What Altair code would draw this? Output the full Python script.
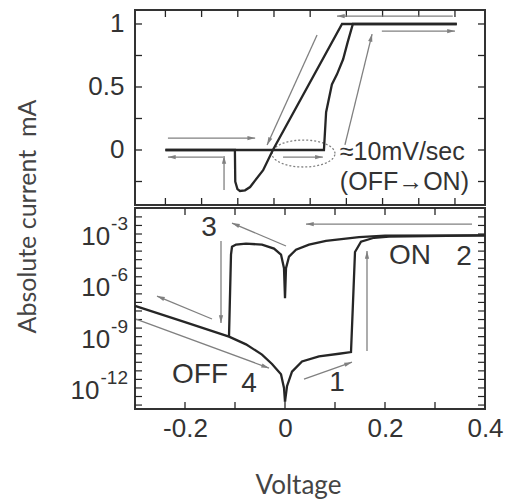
import math
import altair as alt
import numpy as np
import pandas as pd

# ---------------- data: top panel (linear current, mA) ----------------
top_a_v = [-0.30, -0.108, -0.107, -0.101, -0.094, -0.080, -0.066, -0.030, -0.003, 0.188, 0.505]
top_a_i = [0.0, 0.0, -0.25, -0.31, -0.325, -0.32, -0.294, -0.16, 0.0, 1.0, 1.0]
top_b_v = [-0.30, 0.138, 0.144, 0.160, 0.174, 0.191, 0.204, 0.218, 0.505]
top_b_i = [0.0, 0.0, 0.30, 0.52, 0.60, 0.72, 0.86, 1.0, 1.0]

# arrows: start V, start I, end V, end I
top_arrows = [
    (-0.293, 0.095, -0.052, 0.095),
    (-0.141, -0.056, -0.293, -0.056),
    (-0.138, -0.317, -0.138, -0.048),
    (0.119, 0.913, -0.019, 0.04),
    (0.196, 0.04, 0.271, 0.92),
    (0.494, 1.063, 0.174, 1.063),
    (0.298, 0.944, 0.500, 0.944),
    (0.025, -0.056, 0.135, -0.056),
]
ellipse_center = (0.0815, -0.028)
ellipse_radii = (0.087, 0.107)
top_texts = ["\u224810mV/sec", "(OFF\u2192ON)"]
top_text_v = [0.182, 0.182]
top_text_i = [-0.016, -0.254]
top_ylabels = [0, 0.5, 1]
top_yticks = [-0.25, 0, 0.25, 0.5, 0.75, 1.0]
top_xticks = [-0.3, -0.2, -0.1, 0.0, 0.1, 0.2, 0.3, 0.4, 0.5]

# ---------------- data: bottom panel (log10 of |I| in mA) ----------------
off_v = [-0.30, -0.20, -0.112, -0.078, -0.046, -0.026, -0.008, -0.002, 0.0]
off_L = [-7.2, -8.15, -9.0, -9.45, -10.05, -10.6, -11.2, -12.0, -12.8]
set_v = [0.0, 0.004, 0.014, 0.034, 0.068, 0.108, 0.132, 0.136, 0.140, 0.152, 0.178, 0.208, 0.40]
set_L = [-12.8, -11.9, -11.05, -10.45, -10.15, -10.0, -9.9, -7.0, -4.05, -3.45, -3.22, -3.15, -3.08]
on_v = [0.40, 0.20, 0.148, 0.082, 0.048, 0.022, 0.008, 0.002, 0.0, -0.002, -0.008,
        -0.022, -0.046, -0.078, -0.098, -0.106, -0.108, -0.112]
on_L = [-3.08, -3.1, -3.18, -3.4, -3.62, -3.92, -4.32, -5.0, -6.75, -5.0, -4.2,
        -3.85, -3.62, -3.56, -3.62, -3.75, -4.2, -9.0]

bot_arrows = [
    (-0.298, -7.97, -0.032, -10.84),
    (-0.146, -7.97, -0.256, -6.63),
    (-0.128, -3.41, -0.128, -8.2),
    (0.002, -3.70, -0.106, -2.36),
    (0.038, -11.48, 0.134, -10.49),
    (0.164, -9.84, 0.164, -3.99),
    (0.374, -2.42, 0.042, -2.42),
]
bot_texts = ["3", "OFF", "4", "1", "ON", "2"]
bot_text_v = [-0.152, -0.17, -0.072, 0.104, 0.25, 0.358]
bot_text_L = [-2.65, -11.25, -11.77, -11.7, -4.29, -4.35]
bot_ylabel_exp = [-3, -6, -9, -12]
bot_xlabels = [-0.2, 0.0, 0.2, 0.4]
bot_xticks = [-0.2, -0.1, 0.0, 0.1, 0.2, 0.3]
bot_yticks = [x / 2 for x in range(-26, -3)]

# ---------------- layout / style ----------------
W = 350
TOP_H = 195
BOT_H = 201
TOP_XDOM = [-0.384, 0.583]
TOP_YDOM = [-0.4365, 1.111]
BOT_XDOM = [-0.3, 0.4]
BOT_LDOM = [-13.23, -1.48]
FONT = "Liberation Sans"
TFONT = "Lato"
INK = "#262626"
GRAY = "#808080"
ARROW_PATH = "M 0 0 L -2 -0.55 L -2 0.55 Z"
HEAD = 60
TICK = 7


def angle(dx_px, dy_px):
    return math.degrees(math.atan2(dy_px, dx_px)) % 360


# ================= top panel =================
tsx = W / (TOP_XDOM[1] - TOP_XDOM[0])
tsy = TOP_H / (TOP_YDOM[1] - TOP_YDOM[0])

xt = alt.X("v:Q", scale=alt.Scale(domain=TOP_XDOM, nice=False, zero=False), axis=None)
yt = alt.Y("i:Q", scale=alt.Scale(domain=TOP_YDOM, nice=False, zero=False),
           axis=alt.Axis(values=top_ylabels, ticks=False, domain=False, grid=False,
                         labelFont=FONT, labelFontSize=26, labelColor="#333",
                         labelPadding=11, title=None, labelExpr="toString(datum.value)"))

rows = []
for s, (vs, is_) in enumerate([(top_a_v, top_a_i), (top_b_v, top_b_i)]):
    for k, (v, i) in enumerate(zip(vs, is_)):
        rows.append({"s": s, "o": k, "v": v, "i": i})
top_curves = pd.DataFrame(rows)

ta = pd.DataFrame(top_arrows, columns=["v", "i", "v2", "i2"])
ta_head = pd.DataFrame({
    "v": ta["v2"], "i": ta["i2"],
    "ang": [angle((r.v2 - r.v) * tsx, -(r.i2 - r.i) * tsy) for r in ta.itertuples()],
})

t = np.linspace(0, 2 * np.pi, 73)
ell = pd.DataFrame({"o": np.arange(len(t)),
                    "v": ellipse_center[0] + ellipse_radii[0] * np.cos(t),
                    "i": ellipse_center[1] + ellipse_radii[1] * np.sin(t)})

top_layers = [
    alt.Chart(pd.DataFrame({"i": top_yticks})).mark_rule(color=INK, strokeWidth=1.3).encode(
        y=yt, x=alt.value(0), x2=alt.value(TICK)),
    alt.Chart(pd.DataFrame({"i": top_yticks})).mark_rule(color=INK, strokeWidth=1.3).encode(
        y=yt, x=alt.value(W - TICK), x2=alt.value(W)),
    alt.Chart(pd.DataFrame({"v": top_xticks})).mark_rule(color=INK, strokeWidth=1.3).encode(
        x=xt, y=alt.value(0), y2=alt.value(TICK)),
    alt.Chart(pd.DataFrame({"v": top_xticks})).mark_rule(color=INK, strokeWidth=1.3).encode(
        x=xt, y=alt.value(TOP_H - TICK), y2=alt.value(TOP_H)),
    alt.Chart(ell).mark_line(color=GRAY, strokeWidth=1.3, strokeDash=[2, 2]).encode(
        x=xt, y=yt, order="o:Q"),
    alt.Chart(ta).mark_rule(color=GRAY, strokeWidth=1.3).encode(
        x=xt, y=yt, x2="v2:Q", y2="i2:Q"),
    alt.Chart(ta_head).mark_point(shape=ARROW_PATH, filled=True, color=GRAY, size=HEAD, opacity=1).encode(
        x=xt, y=yt, angle=alt.Angle("ang:Q", scale=None)),
    alt.Chart(top_curves).mark_line(color=INK, strokeWidth=2.3).encode(
        x=xt, y=yt, detail="s:N", order="o:Q"),
    alt.Chart(pd.DataFrame({"v": top_text_v, "i": top_text_i, "t": top_texts})).mark_text(
        align="left", baseline="middle", font=FONT, fontSize=25, color="#333").encode(
        x=xt, y=yt, text="t:N"),
]
top = alt.layer(*top_layers).properties(width=W, height=TOP_H)

# ================= bottom panel =================
bsx = W / (BOT_XDOM[1] - BOT_XDOM[0])
bsy = BOT_H / (BOT_LDOM[1] - BOT_LDOM[0])

xb = alt.X("v:Q", scale=alt.Scale(domain=BOT_XDOM, nice=False, zero=False),
           axis=alt.Axis(values=bot_xlabels, ticks=False, domain=False, grid=False,
                         labelFont=FONT, labelFontSize=26, labelColor="#333", labelPadding=6,
                         labelOverlap=False, labelFlush=False, labelBound=False,
                         labelExpr="datum.value == 0 ? '0' : (datum.value < 0 ? '-' + format(-datum.value, '.1f') : format(datum.value, '.1f'))",
                         title="Voltage", titleFont=TFONT, titleFontSize=26, titleFontWeight="normal",
                         titleColor="#444", titleX=163, titleY=76, titleBaseline="middle",
                         titleAlign="center"))
yb = alt.Y("c:Q", scale=alt.Scale(type="log", domain=[10 ** BOT_LDOM[0], 10 ** BOT_LDOM[1]], nice=False),
           axis=alt.Axis(title="Absolute current\u00a0 mA", labels=False, ticks=False, domain=False,
                         grid=False, titleX=-108, titleY=8, titleAngle=270, titleBaseline="middle",
                         titleAlign="center", titleFont=TFONT, titleFontSize=25,
                         titleFontWeight="normal", titleColor="#444"))

rows = []
for s, (vs, Ls) in enumerate([(off_v, off_L), (set_v, set_L), (on_v, on_L)]):
    for k, (v, L) in enumerate(zip(vs, Ls)):
        rows.append({"s": s, "o": k, "v": v, "c": 10 ** L})
bot_curves = pd.DataFrame(rows)

ba = pd.DataFrame(bot_arrows, columns=["v", "L", "v2", "L2"])
ba["c"] = 10 ** ba["L"]
ba["c2"] = 10 ** ba["L2"]
ba_head = pd.DataFrame({
    "v": ba["v2"], "c": ba["c2"],
    "ang": [angle((r.v2 - r.v) * bsx, -(r.L2 - r.L) * bsy) for r in ba.itertuples()],
})

ytick_df = pd.DataFrame({"c": [10 ** L for L in bot_yticks]})

bot_layers = [
    alt.Chart(pd.DataFrame({"v": bot_xticks})).mark_rule(color=INK, strokeWidth=1.3).encode(
        x=xb, y=alt.value(0), y2=alt.value(TICK)),
    alt.Chart(pd.DataFrame({"v": bot_xticks})).mark_rule(color=INK, strokeWidth=1.3).encode(
        x=xb, y=alt.value(BOT_H - TICK), y2=alt.value(BOT_H)),
    alt.Chart(ytick_df).mark_rule(color=INK, strokeWidth=1.2).encode(
        y=yb, x=alt.value(0), x2=alt.value(TICK)),
    alt.Chart(ytick_df).mark_rule(color=INK, strokeWidth=1.2).encode(
        y=yb, x=alt.value(W - TICK), x2=alt.value(W)),
    alt.Chart(ba).mark_rule(color=GRAY, strokeWidth=1.3).encode(
        x=xb, y=yb, x2="v2:Q", y2="c2:Q"),
    alt.Chart(ba_head).mark_point(shape=ARROW_PATH, filled=True, color=GRAY, size=HEAD, opacity=1).encode(
        x=xb, y=yb, angle=alt.Angle("ang:Q", scale=None)),
    alt.Chart(bot_curves).mark_line(color=INK, strokeWidth=2.3).encode(
        x=xb, y=yb, detail="s:N", order="o:Q"),
    alt.Chart(pd.DataFrame({"v": bot_text_v, "c": [10 ** L for L in bot_text_L], "t": bot_texts})).mark_text(
        align="center", baseline="middle", font=FONT, fontSize=28, color="#333").encode(
        x=xb, y=yb, text="t:N"),
]

# y tick labels as 10 with superscript exponent
EXP_FS = 19
for n in sorted(set(len(str(e)) for e in bot_ylabel_exp)):
    sub = [e for e in bot_ylabel_exp if len(str(e)) == n]
    df = pd.DataFrame({"c": [10.0 ** e for e in sub], "e": [str(e) for e in sub], "b": ["10"] * len(sub)})
    expw = EXP_FS * (0.333 + 0.556 * (n - 1))
    bot_layers.append(alt.Chart(df).mark_text(
        align="right", baseline="middle", font=FONT, fontSize=EXP_FS, color="#333", dx=-7, dy=-10).encode(
        x=alt.value(0), y=yb, text="e:N"))
    bot_layers.append(alt.Chart(df).mark_text(
        align="right", baseline="middle", font=FONT, fontSize=26, color="#333", dx=-8 - expw, dy=3).encode(
        x=alt.value(0), y=yb, text="b:N"))

bottom = alt.layer(*bot_layers).properties(width=W, height=BOT_H)

chart = alt.vconcat(top, bottom, spacing=3, bounds="flush").properties(
    padding={"left": 5, "top": 0, "right": 5, "bottom": 5},
    background="white",
).configure_view(stroke="#333", strokeWidth=2)

chart.save("out.html", embed_options={"renderer": "svg", "actions": False})
